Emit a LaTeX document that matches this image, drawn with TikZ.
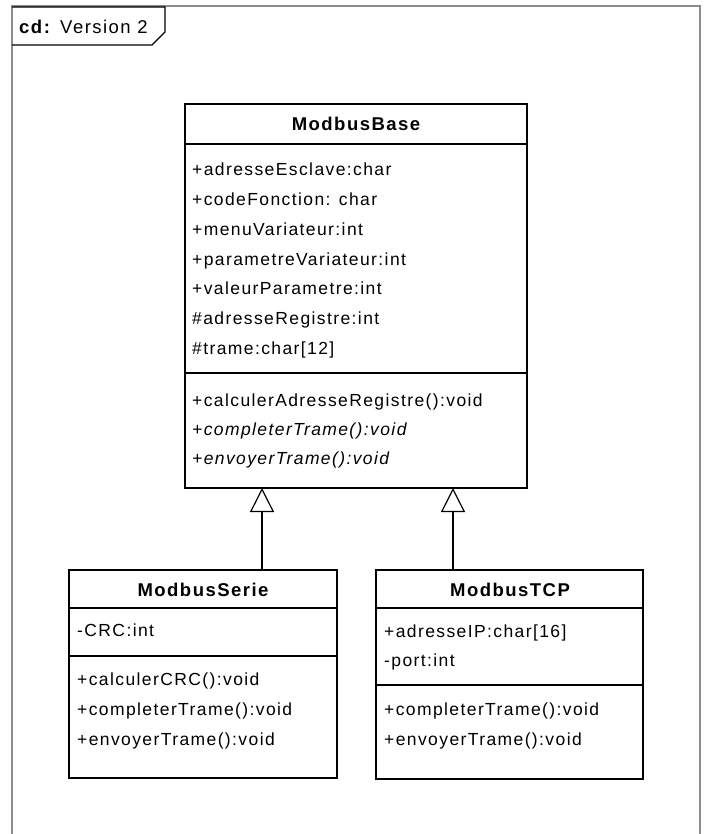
\documentclass[tikz,border=0pt]{standalone}
\usepackage{fontspec}
\setmainfont{Liberation Sans}
\newfontfamily\umlfont[LetterSpace=8]{Liberation Sans}
\usetikzlibrary{arrows.meta}
\tikzset{
  box/.style={draw=black, line width=1.4pt, fill=white, inner sep=0pt, outer sep=0pt, anchor=north west},
  sepline/.style={draw=black, line width=1.2pt},
  cname/.style={font=\umlfont\fontsize{18.5}{22}\selectfont\bfseries, inner sep=0pt},
  member/.style={font=\umlfont\fontsize{17.5}{20}\selectfont, inner sep=0pt, anchor=west, text height=12pt, text depth=3.5pt},
  abstractm/.style={member, font=\umlfont\fontsize{17.5}{20}\selectfont\itshape},
  gen/.style={draw=black, line width=1.2pt, -{Triangle[open, length=24pt, width=24pt, fill=white]}},
  frameline/.style={draw=black!45, line width=1.2pt}
}
\begin{document}
\begin{tikzpicture}[x=1pt, y=-1pt]
\useasboundingbox (0,0) rectangle (704,834);
% frame
\draw[frameline] (12,834) -- (12,6) -- (700,6) -- (700,834);
% tab
\draw[draw=black, line width=1.2pt] (12,7) -- (165,7) -- (165,32) -- (152,45) -- (12,45);
\node[font=\umlfont\fontsize{18.5}{22}\selectfont, anchor=west, inner sep=0pt] (title) at (19,27) {\textbf{cd:} Version 2};

% ModbusBase
\node[box, minimum width=342pt, minimum height=384pt] (base) at (185,104) {};
\draw[sepline] (185,144) -- (527,144);
\draw[sepline] (185,373) -- (527,373);
\node[cname] (basename) at (356,124) {ModbusBase};
\node[member] (b1) at (192,171) {+adresseEsclave:char};
\node[member] (b2) at (192,201) {+codeFonction: char};
\node[member] (b3) at (192,231) {+menuVariateur:int};
\node[member] (b4) at (192,261) {+parametreVariateur:int};
\node[member] (b5) at (192,290) {+valeurParametre:int};
\node[member] (b6) at (192,320) {\#adresseRegistre:int};
\node[member] (b7) at (192,350) {\#trame:char[12]};
\node[member] (b8) at (192,402) {+calculerAdresseRegistre():void};
\node[abstractm] (b9) at (192,431) {+completerTrame():void};
\node[abstractm] (b10) at (192,460) {+envoyerTrame():void};

% ModbusSerie
\node[box, minimum width=268pt, minimum height=208pt] (serie) at (69,570) {};
\draw[sepline] (69,608) -- (337,608);
\draw[sepline] (69,656) -- (337,656);
\node[cname] (seriename) at (203,590) {ModbusSerie};
\node[member] (s1) at (77,632) {-CRC:int};
\node[member] (s2) at (77,681) {+calculerCRC():void};
\node[member] (s3) at (77,711) {+completerTrame():void};
\node[member] (s4) at (77,741) {+envoyerTrame():void};

% ModbusTCP
\node[box, minimum width=267pt, minimum height=209pt] (tcp) at (376,570) {};
\draw[sepline] (376,608) -- (643,608);
\draw[sepline] (376,685) -- (643,685);
\node[cname] (tcpname) at (510,590) {ModbusTCP};
\node[member] (t1) at (384,633) {+adresseIP:char[16]};
\node[member] (t2) at (384,662) {-port:int};
\node[member] (t3) at (384,711) {+completerTrame():void};
\node[member] (t4) at (384,741) {+envoyerTrame():void};

% generalizations
\coordinate (gs) at (262,570);
\coordinate (gt) at (453,570);
\draw[gen] (gs) -- (gs |- base.south);
\draw[gen] (gt) -- (gt |- base.south);
\end{tikzpicture}
\end{document}
